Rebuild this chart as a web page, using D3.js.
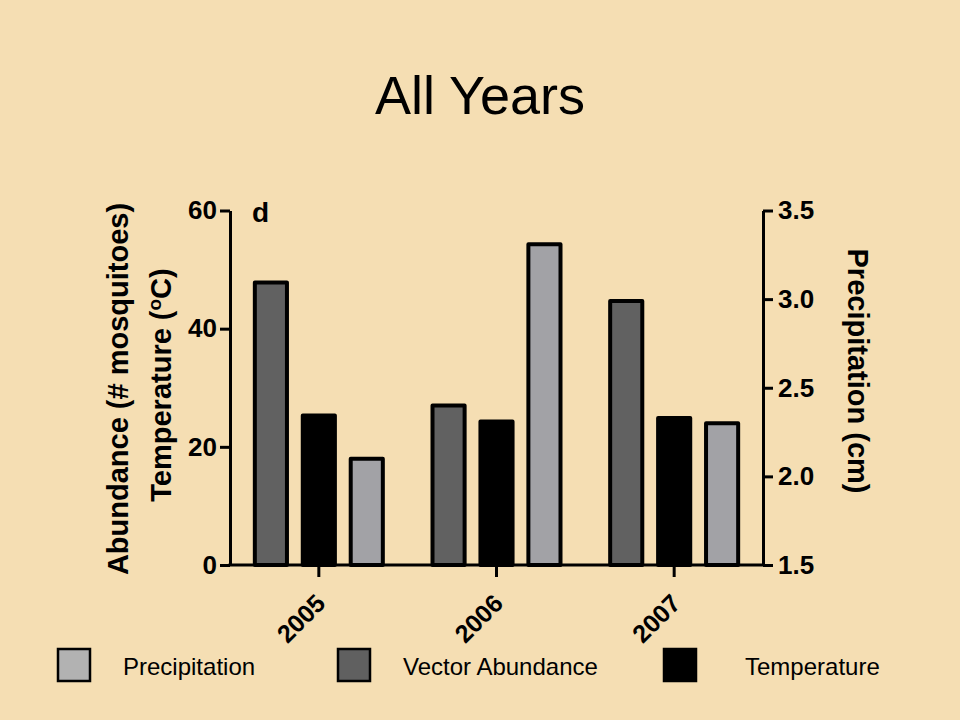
<!DOCTYPE html>
<html><head><meta charset="utf-8">
<script src="https://cdn.jsdelivr.net/npm/d3@7"></script>
<style>
html,body{margin:0;padding:0;background:#f5deb3;}
svg{display:block;font-family:"Liberation Sans",Arial,Helvetica,sans-serif;}
</style></head>
<body>
<script>
const years = ["2005", "2006", "2007"];
const vectorAbundance = [47.8, 27.0, 44.7];
const temperature = [25.3, 24.3, 24.9];
const precipitation = [2.10, 3.31, 2.30];
const leftTicks = [0, 20, 40, 60];
const rightTicks = [1.5, 2.0, 2.5, 3.0, 3.5];
const seriesNames = ["Vector Abundance", "Temperature", "Precipitation"];
const legendOrder = ["Precipitation", "Vector Abundance", "Temperature"];
const colors = {"Vector Abundance": "#616161", "Temperature": "#000000", "Precipitation": "#a2a2a6"};
const legendColors = {"Vector Abundance": "#606060", "Temperature": "#000000", "Precipitation": "#b2b2b2"};

const W = 960, H = 720;
const svg = d3.select("body").append("svg").attr("width", W).attr("height", H);
svg.append("rect").attr("width", W).attr("height", H).attr("fill", "#f5deb3");

const x0 = 230, x1 = 763, yBot = 565, yTop = 210.5;
const x = d3.scaleBand().domain(years).range([x0, x1]).padding(0);
const xi = d3.scaleBand().domain(seriesNames).range([-64, 64]).paddingInner(0.33).paddingOuter(0);
const yL = d3.scaleLinear().domain([0, 60]).range([yBot, yTop]);
const yR = d3.scaleLinear().domain([1.5, 3.5]).range([yBot, yTop]);

// title
svg.append("text").attr("x", 480).attr("y", 114).attr("text-anchor", "middle")
  .attr("font-size", 54).attr("fill", "#000").text("All Years");

// bars
const rows = [];
years.forEach((yr, i) => {
  rows.push({year: yr, s: "Vector Abundance", v: vectorAbundance[i], sc: yL});
  rows.push({year: yr, s: "Temperature", v: temperature[i], sc: yL});
  rows.push({year: yr, s: "Precipitation", v: precipitation[i], sc: yR});
});
svg.append("g").selectAll("rect").data(rows).join("rect")
  .attr("x", d => x(d.year) + x.bandwidth() / 2 + xi(d.s))
  .attr("width", xi.bandwidth())
  .attr("y", d => d.sc(d.v))
  .attr("height", d => yBot - d.sc(d.v))
  .attr("fill", d => colors[d.s])
  .attr("stroke", "#000").attr("stroke-width", 4).attr("stroke-linejoin", "round");

function styleAxis(g) {
  g.selectAll("path.domain").attr("stroke", "#000").attr("stroke-width", 3);
  g.selectAll(".tick line").attr("stroke", "#000").attr("stroke-width", 3);
  g.selectAll(".tick text").attr("fill", "#000").attr("font-size", 26).attr("font-weight", "bold")
    .attr("font-family", '"Liberation Sans",Arial,sans-serif');
}

// left axis
const gL = svg.append("g").attr("transform", `translate(${x0},0)`)
  .call(d3.axisLeft(yL).tickValues(leftTicks).tickSize(10).tickSizeOuter(0).tickPadding(3));
styleAxis(gL);
// right axis
const gR = svg.append("g").attr("transform", `translate(${x1},0)`)
  .call(d3.axisRight(yR).tickValues(rightTicks).tickFormat(d3.format(".1f")).tickSize(10).tickSizeOuter(0).tickPadding(5));
styleAxis(gR);
// bottom axis
const gB = svg.append("g").attr("transform", `translate(0,${yBot})`)
  .call(d3.axisBottom(x).tickSize(12).tickSizeOuter(0).tickPadding(8));
styleAxis(gB);
gB.select("path.domain").attr("d", `M${x0 - 1.5},0H${x1 + 1.5}`);
gB.selectAll(".tick text").attr("text-anchor", "end").attr("font-size", 25)
  .attr("y", 0).attr("dy", 0).attr("x", 0)
  .attr("transform", "translate(8,40) rotate(-45)");

// panel letter
svg.append("text").attr("x", 252).attr("y", 222).attr("font-size", 28).attr("font-weight", "bold").text("d");

// left axis titles
svg.append("text").attr("transform", "translate(128,389) rotate(-90)").attr("text-anchor", "middle")
  .attr("font-size", 29).attr("font-weight", "bold").text("Abundance (# mosquitoes)");
const t2 = svg.append("text").attr("transform", "translate(171,385) rotate(-90)").attr("text-anchor", "middle")
  .attr("font-size", 29).attr("font-weight", "bold");
t2.append("tspan").text("Temperature (");
t2.append("tspan").attr("dy", -10).attr("font-size", 19).text("o");
t2.append("tspan").attr("dy", 10).text("C)");

// right axis title
svg.append("text").attr("transform", "translate(848,371) rotate(90)").attr("text-anchor", "middle")
  .attr("font-size", 29).attr("font-weight", "bold").text("Precipitation (cm)");

// legend
const legX = {"Precipitation": 57, "Vector Abundance": 337, "Temperature": 663};
const legTX = {"Precipitation": 123, "Vector Abundance": 403, "Temperature": 745};
const lg = svg.append("g").selectAll("g").data(legendOrder).join("g");
lg.append("rect").attr("x", d => legX[d] + 1).attr("y", 649).attr("width", 32).attr("height", 32)
  .attr("fill", d => legendColors[d]).attr("stroke", "#000").attr("stroke-width", 2.5);
lg.append("text").attr("x", d => legTX[d]).attr("y", 675).attr("font-size", 24).attr("fill", "#000").text(d => d);
</script>
</body></html>
